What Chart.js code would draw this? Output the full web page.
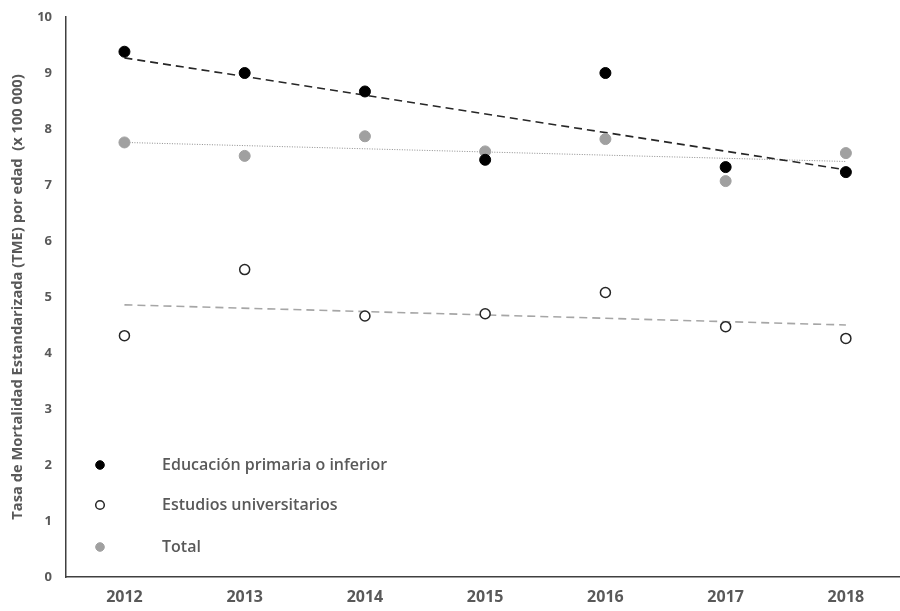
<!DOCTYPE html>
<html>
<head>
<meta charset="utf-8">
<script src="https://cdn.jsdelivr.net/npm/chart.js@4.4.1/dist/chart.umd.min.js"></script>
<style>
  html, body { margin: 0; padding: 0; background: #fff; overflow: hidden; }
  #wrap { width: 900px; height: 611px; }
  canvas { display: block; }
</style>
</head>
<body>
<div id="wrap"><canvas id="myChart" width="900" height="611"></canvas></div>
<script>
// Data
const years = [2012, 2013, 2014, 2015, 2016, 2017, 2018];
const primaria = [9.38, 9.0, 8.67, 7.45, 9.0, 7.32, 7.23];
const universitarios = [4.31, 5.49, 4.66, 4.70, 5.08, 4.47, 4.26];
const total = [7.76, 7.52, 7.87, 7.60, 7.82, 7.07, 7.57];
// trend line ends (2012, 2018)
const trendYears = [2012, 2018];
const trendPrimaria = [9.27, 7.27];
const trendUniversitarios = [4.86, 4.50];
const trendTotal = [7.76, 7.42];
const yTicks = [0, 1, 2, 3, 4, 5, 6, 7, 8, 9, 10];
const legendLabels = ["Educación primaria o inferior", "Estudios universitarios", "Total"];

const textColor = '#595959';
const fontFamily = '"Open Sans", "Liberation Sans", sans-serif';

const toXY = (xs, ys) => xs.map((x, i) => ({ x: x, y: ys[i] }));

// legend drawn inside the plot area, bottom left
const innerLegend = {
  id: 'innerLegend',
  afterDatasetsDraw(chart) {
    const ctx = chart.ctx;
    const area = chart.chartArea;
    const rows = [465, 505, 547];
    ctx.save();
    for (let i = 0; i < 3; i++) {
      const ds = chart.data.datasets[i];
      const y = rows[i];
      ctx.beginPath();
      ctx.arc(area.left + 34, y, 4.3, 0, Math.PI * 2);
      ctx.fillStyle = ds.pointBackgroundColor;
      ctx.fill();
      ctx.lineWidth = ds.pointBorderWidth;
      ctx.strokeStyle = ds.pointBorderColor;
      ctx.stroke();
      ctx.fillStyle = textColor;
      ctx.font = '600 16px ' + fontFamily;
      ctx.textAlign = 'left';
      ctx.textBaseline = 'middle';
      ctx.fillText(legendLabels[i], area.left + 96, y);
    }
    ctx.restore();
  }
};

new Chart(document.getElementById('myChart'), {
  type: 'scatter',
  data: {
    datasets: [
      {
        label: legendLabels[0],
        data: toXY(years, primaria),
        pointRadius: 5.5,
        pointBackgroundColor: '#000000',
        pointBorderColor: '#000000',
        pointBorderWidth: 1,
        order: 1
      },
      {
        label: legendLabels[1],
        data: toXY(years, universitarios),
        pointRadius: 5,
        pointBackgroundColor: '#ffffff',
        pointBorderColor: '#262626',
        pointBorderWidth: 1.5,
        order: 1
      },
      {
        label: legendLabels[2],
        data: toXY(years, total),
        pointRadius: 5.5,
        pointBackgroundColor: '#a0a0a0',
        pointBorderColor: '#a0a0a0',
        pointBorderWidth: 1,
        order: 1
      },
      {
        label: 'trend primaria',
        data: toXY(trendYears, trendPrimaria),
        showLine: true,
        pointRadius: 0,
        borderColor: '#262626',
        borderWidth: 1.6,
        borderDash: [8, 5],
        order: 2
      },
      {
        label: 'trend universitarios',
        data: toXY(trendYears, trendUniversitarios),
        showLine: true,
        pointRadius: 0,
        borderColor: '#a6a6a6',
        borderWidth: 1.6,
        borderDash: [8, 5],
        order: 2
      },
      {
        label: 'trend total',
        data: toXY(trendYears, trendTotal),
        showLine: true,
        pointRadius: 0,
        borderColor: '#8c8c8c',
        borderWidth: 1,
        borderDash: [1, 1.5],
        order: 2
      }
    ]
  },
  options: {
    responsive: false,
    animation: false,
    layout: { autoPadding: false, padding: { top: 17, right: 0, left: 0, bottom: 0 } },
    plugins: {
      legend: { display: false },
      tooltip: { enabled: false }
    },
    scales: {
      x: {
        type: 'linear',
        min: 2011.514,
        max: 2018.45,
        grid: { display: false, drawTicks: false },
        border: { display: true, color: '#404040', width: 1.5 },
        afterBuildTicks: (scale) => { scale.ticks = years.map(v => ({ value: v })); },
        afterFit: (scale) => {
          scale.height = 34;
          scale.paddingLeft = 0;
          scale.paddingRight = 0;
        },
        ticks: {
          color: textColor,
          padding: 11,
          font: { family: fontFamily, size: 16, weight: 'bold' },
          callback: (v) => String(v)
        }
      },
      y: {
        min: 0,
        max: 10,
        grid: { display: false, drawTicks: false },
        border: { display: true, color: '#404040', width: 1.5 },
        afterBuildTicks: (scale) => { scale.ticks = yTicks.map(v => ({ value: v })); },
        afterFit: (scale) => {
          scale.width = 66;
          scale.paddingTop = 0;
          scale.paddingBottom = 0;
        },
        ticks: {
          color: textColor,
          padding: 14,
          font: { family: fontFamily, size: 13, weight: 'bold' }
        },
        title: {
          display: true,
          text: 'Tasa de Mortalidad Estandarizada (TME) por edad  (x 100 000)',
          color: textColor,
          padding: { top: 9, bottom: 0 },
          font: { family: fontFamily, size: 14.7, weight: 'bold' }
        }
      }
    }
  },
  plugins: [innerLegend]
});
</script>
</body>
</html>
